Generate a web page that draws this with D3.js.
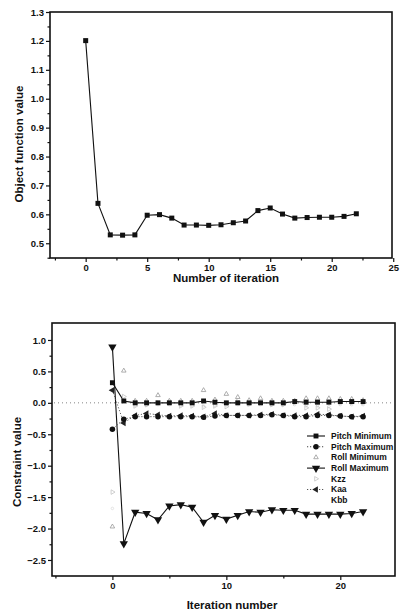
<!DOCTYPE html>
<html><head><meta charset="utf-8">
<script src="https://cdn.jsdelivr.net/npm/d3@7"></script>
<style>
body{margin:0;background:#fff;}
svg{display:block;font-family:"Liberation Sans",Arial,sans-serif;font-weight:bold;}
</style></head>
<body>
<svg id="c" width="400" height="613"></svg>
<script>
// ---- Top chart data ----
const iterTop = d3.range(0, 23);
const objectValue = [1.201,0.638,0.529,0.528,0.529,0.597,0.599,0.587,0.563,0.563,0.562,0.564,0.571,0.577,0.613,0.622,0.601,0.587,0.589,0.590,0.590,0.593,0.602];
const topXTicks = [0,5,10,15,20,25];
const topYTicks = [0.5,0.6,0.7,0.8,0.9,1.0,1.1,1.2,1.3];

// ---- Bottom chart data ----
const iterBot = d3.range(0, 23);
const seriesNames = ["Pitch Minimum","Pitch Maximum","Roll Minimum","Roll Maximum","Kzz","Kaa","Kbb"];
const pitchMin = [0.32,0.03,0.0,0.0,0.0,0.0,0.0,0.0,0.03,0.01,0.0,0.0,0.0,0.0,0.0,0.0,0.02,0.01,0.01,0.01,0.02,0.02,0.02];
const pitchMax = [-0.42,-0.26,-0.22,-0.22,-0.22,-0.22,-0.22,-0.22,-0.23,-0.21,-0.20,-0.20,-0.20,-0.20,-0.19,-0.20,-0.22,-0.22,-0.20,-0.20,-0.21,-0.22,-0.22];
const rollMin = [-1.97,0.51,0.03,0.03,0.12,0.03,0.03,0.03,0.20,0.05,0.14,0.09,0.04,0.07,0.03,0.03,0.03,0.07,0.07,0.07,0.06,0.06,0.04];
const rollMax = [0.89,-2.24,-1.74,-1.76,-1.86,-1.64,-1.62,-1.66,-1.90,-1.79,-1.85,-1.79,-1.73,-1.74,-1.70,-1.71,-1.71,-1.77,-1.77,-1.77,-1.77,-1.76,-1.73];
const kzz = [-1.42,0.10,-0.05,-0.03,0.0,0.0,-0.05,-0.05,-0.07,-0.05,-0.06,0.02,-0.02,0.0,-0.03,-0.03,0.0,-0.08,-0.08,-0.10,0.0,0.0,0.0];
const kaa = [0.20,-0.32,-0.20,-0.17,-0.19,-0.21,-0.20,-0.21,-0.22,-0.17,-0.20,-0.20,-0.20,-0.19,-0.18,-0.20,-0.20,-0.20,-0.18,-0.19,-0.21,-0.22,-0.21];
const kbb = [-1.68,-0.30,-0.04,-0.04,-0.03,-0.03,-0.04,-0.04,-0.05,-0.04,-0.04,-0.03,-0.03,-0.03,-0.03,-0.03,-0.03,-0.05,-0.05,-0.06,-0.03,-0.03,-0.03];
const botXTicks = [0,10,20];
const botYTicks = [-2.5,-2.0,-1.5,-1.0,-0.5,0.0,0.5,1.0];

const svg = d3.select("#c");
const ink = "#111";

function frame(g, x, y, xTicks, xMinor, yTicks, yMinor, yFmt){
  const [x0,x1] = x.range(), [y1,y0] = y.range();
  g.append("g").attr("transform",`translate(0,${y1})`)
    .call(d3.axisBottom(x).tickValues(xMinor).tickSize(2.5).tickFormat(""))
    .call(a=>a.select(".domain").remove());
  g.append("g").attr("transform",`translate(${x0},0)`)
    .call(d3.axisLeft(y).tickValues(yMinor).tickSize(2.5).tickFormat(""))
    .call(a=>a.select(".domain").remove());
  const xa = g.append("g").attr("transform",`translate(0,${y1})`)
    .call(d3.axisBottom(x).tickValues(xTicks).tickSize(4).tickPadding(2).tickFormat(d3.format("d")));
  const ya = g.append("g").attr("transform",`translate(${x0},0)`)
    .call(d3.axisLeft(y).tickValues(yTicks).tickSize(4).tickPadding(2).tickFormat(yFmt));
  [xa,ya].forEach(a=>{
    a.select(".domain").remove();
    a.selectAll("text").attr("font-size",9.5).attr("font-weight","bold").attr("fill",ink).attr("font-family","Liberation Sans, Arial, sans-serif");
  });
  g.selectAll(".tick line").attr("stroke",ink).attr("stroke-width",1.2);
  g.append("rect").attr("x",x0).attr("y",y0).attr("width",x1-x0).attr("height",y1-y0)
    .attr("fill","none").attr("stroke",ink).attr("stroke-width",1.6);
}

// ================= TOP CHART =================
const xT = d3.scaleLinear().domain([-2.9,24.9]).range([50,392]);
const yT = d3.scaleLinear().domain([0.449,1.3]).range([258,12]);
const gT = svg.append("g");
frame(gT, xT, yT, topXTicks, [-2.5,2.5,7.5,12.5,17.5,22.5], topYTicks, [0.45,0.55,0.65,0.75,0.85,0.95,1.05,1.15,1.25], d3.format(".1f"));
gT.append("path").datum(iterTop.map((d,i)=>[d,objectValue[i]]))
  .attr("d", d3.line().x(d=>xT(d[0])).y(d=>yT(d[1])))
  .attr("fill","none").attr("stroke",ink).attr("stroke-width",1.1);
gT.selectAll("rect.m").data(iterTop).join("rect").attr("class","m")
  .attr("x",d=>xT(d)-2.5).attr("y",(d,i)=>yT(objectValue[i])-2.5)
  .attr("width",5).attr("height",5).attr("fill",ink);
gT.append("text").attr("x",226).attr("y",282).attr("text-anchor","middle")
  .attr("font-size",11.5).attr("fill",ink).text("Number of iteration");
gT.append("text").attr("transform","translate(23,144) rotate(-90)").attr("text-anchor","middle")
  .attr("font-size",11.5).attr("fill",ink).text("Object function value");

// ================= BOTTOM CHART =================
const xB = d3.scaleLinear().domain([-5.3,24.8]).range([52,395]);
const yB = d3.scaleLinear().domain([-2.755,1.27]).range([576,323]);
const gB = svg.append("g");
frame(gB, xB, yB, botXTicks, [-5,5,15], botYTicks, [-2.25,-1.75,-1.25,-0.75,-0.25,0.25,0.75], d3.format(".1f"));

gB.append("line").attr("x1",xB.range()[0]+2).attr("x2",xB.range()[1]-2)
  .attr("y1",yB(0)).attr("y2",yB(0)).attr("stroke","#666").attr("stroke-width",0.8).attr("stroke-dasharray","1,3");

const sym = {
  square: d3.symbol().type(d3.symbolSquare).size(24),
  circle: d3.symbol().type(d3.symbolCircle).size(24),
  triUp: d3.symbol().type(d3.symbolTriangle).size(18),
  triSmall: d3.symbol().type(d3.symbolTriangle).size(9),
  triDown: d3.symbol().type(d3.symbolTriangle).size(30),
};
const series = [
  {name:seriesNames[0], vals:pitchMin, line:"solid", color:ink, marker:"square", rot:0, lc:ink},
  {name:seriesNames[1], vals:pitchMax, line:"dot", color:ink, marker:"circle", rot:0, lc:"#444"},
  {name:seriesNames[2], vals:rollMin, line:"none", color:"#999", marker:"triSmall", rot:0, open:true},
  {name:seriesNames[3], vals:rollMax, line:"solid", color:ink, marker:"triDown", rot:180, lc:ink},
  {name:seriesNames[4], vals:kzz, line:"none", color:"#c4c4c4", marker:"triSmall", rot:90, open:true},
  {name:seriesNames[5], vals:kaa, line:"dot", color:"#222", marker:"triUp", rot:-90, lc:"#555"},
  {name:seriesNames[6], vals:kbb, line:"none", color:"#ddd", marker:"circle", rot:0, open:true, tiny:true},
];
const lineGen = d3.line().x(d=>xB(d[0])).y(d=>yB(d[1]));
[3,0,1,5].forEach(k=>{
  const s = series[k];
  gB.append("path").datum(iterBot.map((d,i)=>[d,s.vals[i]]))
    .attr("d",lineGen).attr("fill","none").attr("stroke",s.lc)
    .attr("stroke-width", s.line==="solid"?1.1:0.9)
    .attr("stroke-dasharray", s.line==="dot"?"1.2,1.8":null);
});
[6,4,2,5,1,0,3].forEach(k=>{
  const s = series[k];
  gB.append("g").selectAll("path").data(iterBot).join("path")
    .attr("d", s.tiny? d3.symbol().type(d3.symbolCircle).size(5)() : sym[s.marker]())
    .attr("transform",(d,i)=>`translate(${xB(d)},${yB(s.vals[i])}) rotate(${s.rot})`)
    .attr("fill", s.open? "none": s.color)
    .attr("stroke", s.open? s.color: "none").attr("stroke-width",0.8);
});

const lg = gB.append("g");
const lx0 = 307, lx1 = 325, ltx = 331, ly0 = 436, ldy = 10.7;
series.forEach((s,k)=>{
  const yy = ly0 + k*ldy;
  if(s.line!=="none"){
    lg.append("line").attr("x1",lx0).attr("x2",lx1).attr("y1",yy).attr("y2",yy)
      .attr("stroke",s.lc).attr("stroke-width",1.1)
      .attr("stroke-dasharray", s.line==="dot"?"1.2,1.8":null);
  }
  if(!s.tiny){
    lg.append("path").attr("d",sym[s.marker]())
      .attr("transform",`translate(${(lx0+lx1)/2},${yy}) rotate(${s.rot})`)
      .attr("fill", s.open?"none":s.color).attr("stroke", s.open?s.color:"none").attr("stroke-width",0.8);
  }
  lg.append("text").attr("x",ltx).attr("y",yy).attr("dy","0.35em")
    .attr("font-size",8.5).attr("fill",ink).text(s.name);
});

gB.append("text").attr("x",232).attr("y",609).attr("text-anchor","middle")
  .attr("font-size",11.5).attr("fill",ink).text("Iteration number");
gB.append("text").attr("transform","translate(21,462) rotate(-90)").attr("text-anchor","middle")
  .attr("font-size",11.5).attr("fill",ink).text("Constraint value");
</script>
</body></html>
